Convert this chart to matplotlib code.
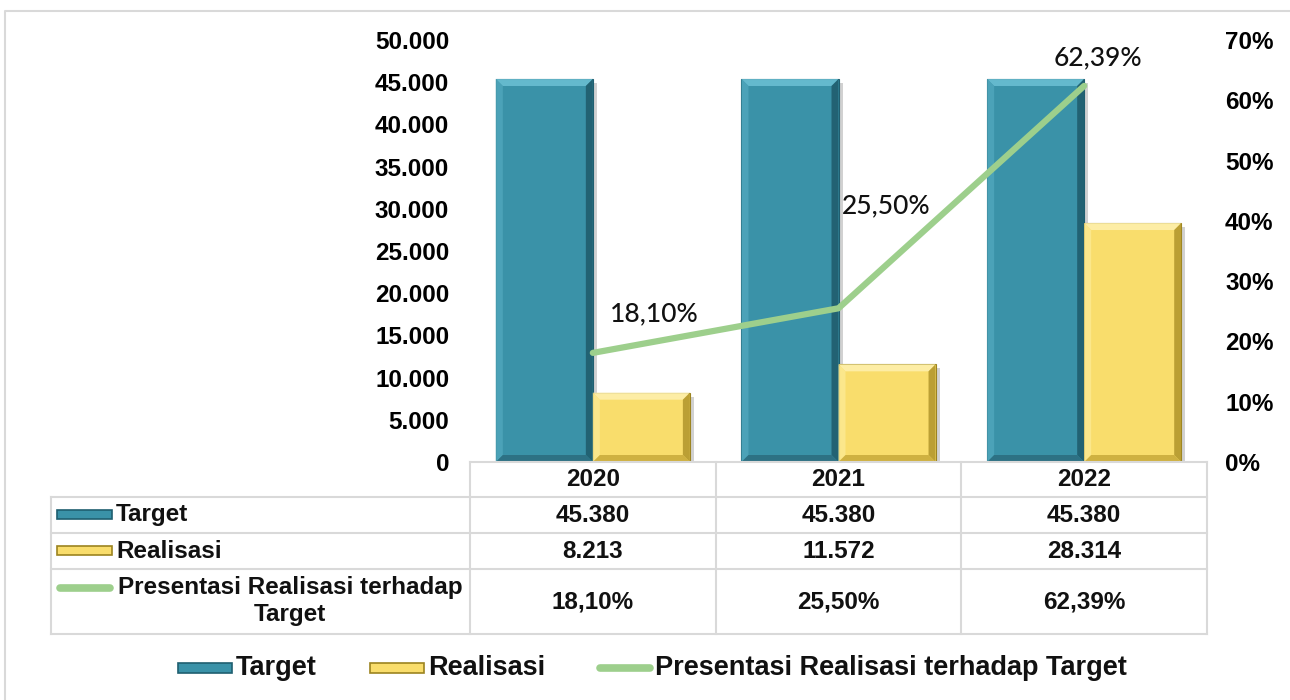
import matplotlib.pyplot as plt
import matplotlib.patheffects as pe
from matplotlib.patches import Polygon, Rectangle
from matplotlib.lines import Line2D
from matplotlib.transforms import IdentityTransform

# data
tahun = ["2020", "2021", "2022"]
target = [45380, 45380, 45380]
realisasi = [8213, 11572, 28314]
persen = [18.10, 25.50, 62.39]
seri = ["Target", "Realisasi", "Presentasi Realisasi terhadap Target"]

W, H = 1290, 700
BIRU = "#3A92A8"
KUNING = "#F9DD6C"
HIJAU = "#9DCF8C"
ABU = "#D9D9D9"
FONT = ["Liberation Sans", "DejaVu Sans"]


def ribuan(v):
    return f"{v:,.0f}".replace(",", ".")


def pctfmt(v):
    return f"{v:.2f}%".replace(".", ",")


def fx(x):
    return x / W


def fy(y):
    return 1 - y / H


fig = plt.figure(figsize=(W / 100, H / 100), dpi=100)
fig.patch.set_facecolor("white")

ax = fig.add_axes([fx(470), fy(462), fx(1207) - fx(470), fy(40) - fy(462)])
ax2 = ax.twinx()

x = list(range(len(tahun)))
lebar = 0.395
bayangan = [pe.SimplePatchShadow(offset=(3, -3), shadow_rgbFace="#999999", alpha=0.45), pe.Normal()]
b1 = ax.bar([i - lebar / 2 for i in x], target, width=lebar, color=BIRU,
            edgecolor="#1F5F70", linewidth=0.8, zorder=2, path_effects=bayangan)
b2 = ax.bar([i + lebar / 2 for i in x], realisasi, width=lebar, color=KUNING,
            edgecolor="#9C8420", linewidth=0.8, zorder=2, path_effects=bayangan)

ax.set_xlim(-0.5, len(tahun) - 0.5)
ax.set_ylim(0, 50000)
ax.set_yticks(range(0, 50001, 5000))
ax.set_yticklabels([ribuan(v) for v in range(0, 50001, 5000)])
ax.set_xticks([])
ax2.set_ylim(0, 0.7)
ax2.set_yticks([i / 10 for i in range(8)])
ax2.set_yticklabels([f"{i * 10}%" for i in range(8)])

for a in (ax, ax2):
    for s in a.spines.values():
        s.set_visible(False)
    a.tick_params(length=0)
    for t in a.get_yticklabels():
        t.set_fontfamily(FONT)
        t.set_fontweight("bold")
        t.set_fontsize(17.5)
ax.tick_params(axis="y", pad=15)
ax2.tick_params(axis="y", pad=13)
ax2.set_zorder(ax.get_zorder() + 1)

ax2.plot(x, [p / 100 for p in persen], color=HIJAU, lw=4.5, solid_capstyle="round", zorder=3)

# posisi label persen (geser dari titik, dalam point)
geser = [(44, 28), (34, 74), (10, 20)]
for i, p in enumerate(persen):
    ax2.annotate(pctfmt(p), (x[i], p / 100), xytext=geser[i], textcoords="offset points",
                 ha="center", va="center", fontsize=19, fontweight="medium",
                 fontfamily=["Lato", "DejaVu Sans"], color="#111111", zorder=4)

# efek bevel pada batang
fig.canvas.draw()
warna_bevel = {
    BIRU: ("#6CC0D4", "#4FA6BB", "#1E5A6A", "#2B6C7E"),
    KUNING: ("#FEF1B0", "#FCE991", "#B0942A", "#C8AA3A"),
}
for cont, c in ((b1, BIRU), (b2, KUNING)):
    atas, kiri, kanan, bawah = warna_bevel[c]
    for r in cont:
        (x0, y0), (x1, y1) = ax.transData.transform([(r.get_x(), 0), (r.get_x() + r.get_width(), r.get_height())])
        d = 7
        polys = [
            ([(x0, y1), (x1, y1), (x1 - d, y1 - d), (x0 + d, y1 - d)], atas),
            ([(x0, y0), (x0, y1), (x0 + d, y1 - d), (x0 + d, y0 + d)], kiri),
            ([(x1, y0), (x1, y1), (x1 - d, y1 - d), (x1 - d, y0 + d)], kanan),
            ([(x0, y0), (x1, y0), (x1 - d, y0 + d), (x0 + d, y0 + d)], bawah),
        ]
        for pts, col in polys:
            ax.add_patch(Polygon(pts, closed=True, facecolor=col, edgecolor="none",
                                 transform=IdentityTransform(), zorder=2.5, alpha=0.85))

# bingkai luar
fig.add_artist(Line2D([fx(5), fx(5), fx(W)], [fy(H), fy(11), fy(11)], color=ABU, lw=1.5))

# tabel data
kolom = [470, 716, 961, 1207]
baris = [462, 497, 533, 569, 634]
kiri_tabel = 51


def garis(xs, ys):
    fig.add_artist(Line2D([fx(v) for v in xs], [fy(v) for v in ys], color=ABU, lw=1.5))


garis([kolom[0], kolom[-1]], [baris[0], baris[0]])
for yy in baris[1:]:
    garis([kiri_tabel, kolom[-1]], [yy, yy])
garis([kiri_tabel, kiri_tabel], [baris[1], baris[-1]])
for xx in kolom:
    garis([xx, xx], [baris[0], baris[-1]])

teks = dict(fontfamily=FONT, fontweight="bold", fontsize=17.5, ha="center", va="center", color="#111111")
isi = [tahun, [ribuan(v) for v in target], [ribuan(v) for v in realisasi], [pctfmt(v) for v in persen]]
for r in range(4):
    yc = (baris[r] + baris[r + 1]) / 2
    for c in range(3):
        fig.text(fx((kolom[c] + kolom[c + 1]) / 2), fy(yc), isi[r][c], **teks)

# kunci pada tabel
fig.add_artist(Rectangle((fx(57), fy(519)), fx(55), 9 / H, facecolor=BIRU, edgecolor="#1F5F70", lw=1.2))
fig.text(fx(116), fy(515), seri[0], **{**teks, "ha": "left"})
fig.add_artist(Rectangle((fx(57), fy(555)), fx(55), 9 / H, facecolor=KUNING, edgecolor="#9C8420", lw=1.2))
fig.text(fx(116), fy(551), seri[1], **{**teks, "ha": "left"})
fig.add_artist(Line2D([fx(60), fx(110)], [fy(588), fy(588)], color=HIJAU, lw=5.5, solid_capstyle="round"))
fig.text(fx(290), fy(601), "Presentasi Realisasi terhadap\nTarget", linespacing=1.2, **teks)

# legenda bawah
leg = dict(fontfamily=FONT, fontweight="bold", fontsize=19.5, ha="left", va="center", color="#111111")
fig.add_artist(Rectangle((fx(178), fy(673)), fx(54), 10 / H, facecolor=BIRU, edgecolor="#1F5F70", lw=1.2))
fig.text(fx(236), fy(668), seri[0], **leg)
fig.add_artist(Rectangle((fx(370), fy(673)), fx(54), 10 / H, facecolor=KUNING, edgecolor="#9C8420", lw=1.2))
fig.text(fx(428), fy(668), seri[1], **leg)
fig.add_artist(Line2D([fx(600), fx(650)], [fy(668), fy(668)], color=HIJAU, lw=5.5, solid_capstyle="round"))
fig.text(fx(655), fy(668), seri[2], **leg)

fig.savefig("out.png", dpi=100)
